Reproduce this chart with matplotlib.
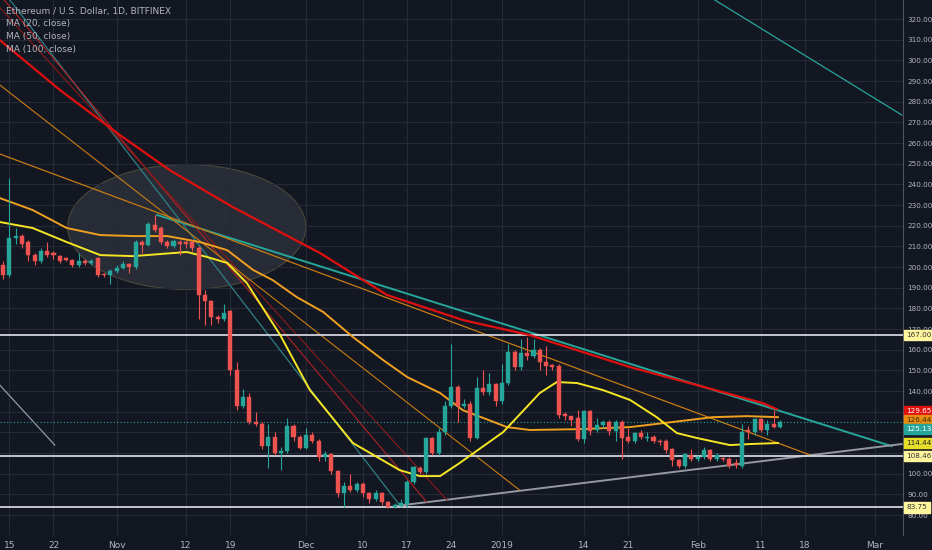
import matplotlib
matplotlib.use("Agg")
import matplotlib.pyplot as plt
from matplotlib.patches import Ellipse, Rectangle
import pandas as pd

START = pd.Timestamp("2018-10-14")
opens = [201,196,214,215,212,206,203,208,207,205.5,204.5,203.5,201,203,202,204.5,196.5,196,198,199.5,201.5,200,212,210.5,220.5,219,212,210,212,212,212,209,186.7,183.5,176,175,178.6,
         150,132.8,137,125,124,113.5,118,110,111,123,117.6,112.7,119,116,108,109.7,101.6,90.6,94,92,95,90.9,88,90.9,86.5,84,84.6,85.4,96.2,103,101,117.5,110,120,133,142,
         133,134,117.5,141.5,139.4,143.6,135,144,158.8,151.5,158.5,157,160,154,152.5,152,129,128,127,116.6,130.6,121,123.4,125,120.7,125,118,116,119.5,117.5,118,116,116,112,106.5,104,109,107,108.2,111.7,107,107.5,107,105,104,121,120,126.6,121.4,124,122.8]
closes = [196,214,215,211,206,203,208,206,206,203,203.5,201,203,202,203,196.3,196,198,199.5,201.5,200,212,210.5,220.8,218,212,210,212.5,211,211,209,186.7,183.5,176,175,178,150,
          132.8,137,125,124,113.5,118,110,111,123,117.6,112.7,119,116,108,109.7,101.6,90.6,94,92,95,90.6,88,90.9,86.5,84,85,85.7,96.2,103.2,101,117.5,110,120,133,142,133,
          134,117.5,141.7,139.4,143.6,135,144,158.8,151.5,158.5,157,160,154,152,151.5,128.4,128,126,116.6,130.6,120.7,123.4,125,120.7,125,117.5,116,119.5,118,117.8,116,115.5,111.7,106.5,104,109.4,107,108.2,111.7,107,109,107,104,104.5,120,120,126.6,121.4,124,122.8,125.1]
highs = [203,243,219,216,213,207,209,212,208,206,205,204,207,204,204,205,197,199,201,203,202,213,213,222,225,220,213,213,213,213,213,210,189,184,177,182,179,
         154,141,139,130,125,124,120,113,127,124,119,122,120,117,111,110,102,96,99.7,96,96,91,92,91,87,86,88,97,104,104,118,118,122,135,163,143,
         136,135,147,150,149,144,153,163,160,165,166,165,161,162,153,153,130,128,131,131,131,127,126,126,126,126,122,120,121,120,119,117,117,112.5,107,110,112,109,113,112,110,108,108,107,124,123,127,127,126,131,126]
lows = [194,195,211,209,203,201,202,205,204,202,203,200,200,201,201,195,195,192,197,199,197,199,207,210,217,211,209,209,206,209,208,175,172,172,173,174,148,
        131,132,124,123,112,102.7,109,102,110,116,112,112,115,106,106,100,89,84,91,91,89,86,87,85,83.5,83.5,84,84,95,100,100,109,109,119,132,125,
        132,116,117,138,138,133,134,143,150,150,155,156,150,148,150,127,126,123,116,115,119,120,122,119,116,107,115,115,117,116,115,114,110,104,103,103,106,106,107,106,106,106,103,103,103,117,119,120,119,122,122]

ma20_d = [-0.5,4.7,10.1,15.4,20.6,29.1,32.3,35.5,38.6,43.9,48.6,55.4,62.8,66.0,69.2,72.3,79.2,85.0,87.7,90.9,95.0,99.3,103.5,106.7,109.9,115.1,118.3,122.7]
ma20_v = [221.8,218.9,212.1,205.8,205.3,207.3,204.9,202.0,192.3,167.1,140.5,114.9,101.8,98.9,98.9,105.2,120.2,139.1,144.4,143.9,140.5,135.7,127.4,119.7,117.3,113.9,114.4,114.9]
ma50_d = [-0.5,4.7,10.1,15.4,20.6,26.0,31.2,35.5,39.6,42.7,46.5,50.7,55.4,60.2,64.0,69.2,72.8,79.8,83.4,91.3,99.3,104.5,112.4,117.8,122.7]
ma50_v = [233.4,227.6,218.9,215.5,215.0,215.0,212.1,208.2,198.6,193.7,185.5,178.3,166.2,155.0,146.8,139.1,130.8,122.6,121.2,121.6,122.6,124.5,127.4,127.9,127.4]
ma100_d = [-0.5,9.0,18.5,26.4,36.4,50.2,60.8,72.8,83.4,99.3,109.9,120.3,122.5]
ma100_v = [309.8,285.7,263.9,246.9,229.0,206.8,186.5,174.4,167.1,151.6,142.9,134.2,131.3]

trendlines = [
    (24.4, 225.2, 140.7, 113.4, "#26a69a", 1.4),
    (62.1, 84.4, 142.3, 114.4, "#9598a1", 1.4),
    (1.1, 329.2, 62.8, 84.9, "#2f7f86", 0.9),
    (112.7, 329.2, 142.3, 273.6, "#26a69a", 0.9),
    (0.2, 329.2, 67.1, 86.3, "#b22222", 0.8),
    (-1.6, 329.2, 70.3, 87.3, "#8b1a1a", 0.8),
    (-0.5, 288.1, 81.8, 92.1, "#c77c12", 0.8),
    (-0.5, 254.7, 127.8, 109.1, "#c77c12", 0.9),
    (-0.5, 142.9, 8.2, 113.9, "#9598a1", 0.9),
]
hlines = [167.00, 108.46, 83.75]
last_labels = [(129.65, "#e0100f", "white"), (126.44, "#e88b10", "#3a2a00"),
               (125.13, "#26a69a", "white"), (114.44, "#e5dd2a", "#222")]
label_shift = [0.8, -0.4, -3.5, 0.6]  # small vertical offsets so stacked tags do not overlap
tick_dates = ["2018-10-15","2018-10-22","2018-11-01","2018-11-12","2018-11-19","2018-12-01","2018-12-10",
              "2018-12-17","2018-12-24","2019-01-01","2019-01-14","2019-01-21","2019-02-01","2019-02-11","2019-02-18","2019-03-01"]
tick_labels = ["15","22","Nov","12","19","Dec","10","17","24","2019","14","21","Feb","11","18","Mar"]
price_ticks = list(range(80, 330, 10))

BG = "#131722"; GRID = "#262a36"; TXT = "#b2b5be"
UP = "#26a69a"; DN = "#ef5350"

fig = plt.figure(figsize=(9.32, 5.5), dpi=100, facecolor=BG)
ax = fig.add_axes([0, 15/550, 903/932, 535/550], facecolor=BG)
ax.set_xlim(-0.47, 142.5)
ax.set_ylim(70.4, 329.2)
xt = [(pd.Timestamp(d) - START).days for d in tick_dates]
ax.set_xticks(xt)
ax.set_xticklabels(tick_labels, color=TXT, fontsize=6.5)
ax.set_yticks(price_ticks)
ax.set_yticklabels([f"{v:.2f}" for v in price_ticks], color=TXT, fontsize=5.2)
ax.yaxis.tick_right()
ax.tick_params(axis="both", length=0, pad=4)
ax.tick_params(axis="y", pad=3)
ax.grid(True, color=GRID, lw=0.8)
for s in ["top", "left", "bottom"]:
    ax.spines[s].set_visible(False)
ax.spines["right"].set_color("#50535e")

ax.add_patch(Ellipse((29.1, 219.4), 37.7, 60.5, facecolor="#3a3e4a", alpha=0.55, edgecolor="#6b6a45", lw=0.8, zorder=1))

for d0, p0, d1, p1, c, lw in trendlines:
    ax.plot([d0, d1], [p0, p1], color=c, lw=lw, zorder=2)
for h in hlines:
    ax.axhline(h, color="#d1d4dc", lw=1.3, zorder=2)
ax.axhline(125.13, color=UP, lw=0.8, ls=(0, (1, 2)), zorder=2)

ax.plot(ma100_d, ma100_v, color="#e0100f", lw=1.6, zorder=3)
ax.plot(ma50_d, ma50_v, color="#f0a020", lw=1.4, zorder=3)
ax.plot(ma20_d, ma20_v, color="#f5e625", lw=1.4, zorder=3)

for i, (o, c, h, l) in enumerate(zip(opens, closes, highs, lows)):
    col = UP if c >= o else DN
    ax.vlines(i, l, h, color=col, lw=0.8, zorder=4)
    ax.add_patch(Rectangle((i - 0.32, min(o, c)), 0.64, max(abs(c - o), 0.4), facecolor=col, edgecolor=col, lw=0.3, zorder=5))

def tag(v, bg, fg, dy=0.0):
    ax.text(1.004, v + dy, f"{v:.2f}", transform=ax.get_yaxis_transform(), fontsize=5.2, color=fg, va="center", ha="left",
            bbox=dict(boxstyle="square,pad=0.3", fc=bg, ec=bg), zorder=10, clip_on=False)
for v in hlines:
    tag(v, "#fff59d", "#333")
for (v, bg, fg), dy in zip(last_labels, label_shift):
    tag(v, bg, fg, dy)

fig.text(0.006, 0.988, "Ethereum / U.S. Dollar, 1D, BITFINEX", color=TXT, fontsize=6.5, va="top")
fig.text(0.006, 0.965, "MA (20, close)", color=TXT, fontsize=6.5, va="top")
fig.text(0.006, 0.942, "MA (50, close)", color=TXT, fontsize=6.5, va="top")
fig.text(0.006, 0.919, "MA (100, close)", color=TXT, fontsize=6.5, va="top")

fig.savefig("out.png", dpi=100, facecolor=BG)
